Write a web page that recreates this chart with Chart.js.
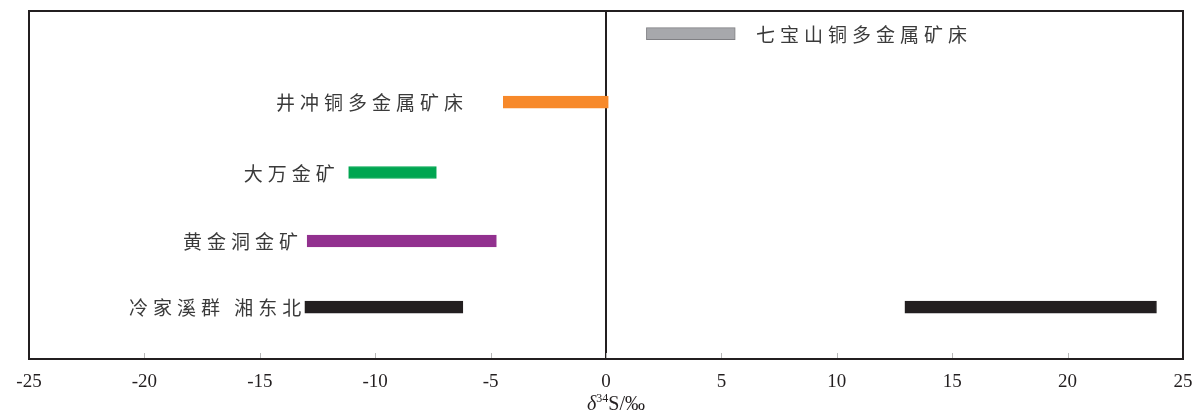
<!DOCTYPE html>
<html>
<head>
<meta charset="utf-8">
<script src="https://cdn.jsdelivr.net/npm/chart.js@4"></script>
<style>
    body { margin: 0; background: #fff; }
    #wrap { width: 1196px; height: 415px; position: relative; }
</style>
</head>
<body>
<div id="wrap"><canvas id="chart"></canvas></div>
<script>
// Rows (top to bottom) and where they sit on the hidden y scale
const rowNames = ['七宝山铜多金属矿床', '井冲铜多金属矿床', '大万金矿', '黄金洞金矿', '冷家溪群 湘东北'];
const rowPos = [9.35, 7.38, 5.36, 3.39, 1.49];

// δ34S ranges, one entry per bar (the last row has two bars)
const barRow = [0, 1, 2, 3, 4, 4];
const barLow = [1.75, -4.45, -11.15, -12.95, -13.05, 12.95];
const barHigh = [5.6, 0.1, -7.35, -4.75, -6.2, 23.85];
const barColors = ['#a7a8ac', '#f7892a', '#00a651', '#92318f', '#231f20', '#231f20'];
const barBorders = ['#808084', '#f7892a', '#00a651', '#92318f', '#231f20', '#231f20'];

// where each row label starts/ends (x value) and on which side of that point
const labelAt = [6.5, -6.2, -11.75, -13.35, -13.2];
const labelSide = ['right', 'left', 'left', 'left', 'left'];

// x axis
const xMin = -25;
const xMax = 25;
const xStep = 5;

const INK = '#231f20';

// Frame, inward tick marks, row labels and the axis title
const decorPlugin = {
    id: 'decor',
    afterDatasetsDraw(chart) {
        const ctx = chart.ctx;
        const area = chart.chartArea;
        const xs = chart.scales.x;
        const ys = chart.scales.y;

        ctx.save();

        // small inward ticks along the bottom
        ctx.strokeStyle = '#b8b8b8';
        ctx.lineWidth = 1;
        xs.ticks.forEach(t => {
            const px = Math.round(xs.getPixelForValue(t.value)) + 0.5;
            ctx.beginPath();
            ctx.moveTo(px, area.bottom);
            ctx.lineTo(px, area.bottom - 6);
            ctx.stroke();
        });

        // frame
        ctx.strokeStyle = INK;
        ctx.lineWidth = 2;
        ctx.strokeRect(area.left, area.top, area.right - area.left, area.bottom - area.top);

        // row labels
        const spacing = 5;
        ctx.font = '19px "Noto Sans CJK SC"';
        ctx.fillStyle = '#3a3a3a';
        ctx.textBaseline = 'middle';
        ctx.textAlign = 'left';
        ctx.letterSpacing = spacing + 'px';
        rowNames.forEach((name, i) => {
            const w = ctx.measureText(name).width - spacing;
            const px = xs.getPixelForValue(labelAt[i]);
            const py = ys.getPixelForValue(rowPos[i]) + 1;
            const startX = labelSide[i] === 'right' ? px : px - w;
            ctx.fillText(name, startX, py);
        });
        ctx.letterSpacing = '0px';

        // axis title: δ34S/‰
        const base = 410;
        ctx.fillStyle = INK;
        ctx.textBaseline = 'alphabetic';
        const parts = [
            { t: 'δ', f: 'italic 20px "Liberation Serif"', dy: 0 },
            { t: '34', f: '12px "Liberation Serif"', dy: -8 },
            { t: 'S/‰', f: '20px "Liberation Serif"', dy: 0 }
        ];
        let total = 0;
        parts.forEach(p => { ctx.font = p.f; p.w = ctx.measureText(p.t).width; total += p.w; });
        let cx = xs.getPixelForValue(0) + 10 - total / 2;
        parts.forEach(p => {
            ctx.font = p.f;
            ctx.fillText(p.t, cx, base + p.dy);
            cx += p.w;
        });

        ctx.restore();
    }
};

const bars = barLow.map((lo, i) => ({ x: [lo, barHigh[i]], y: rowPos[barRow[i]] }));

new Chart(document.getElementById('chart').getContext('2d'), {
    type: 'bar',
    data: {
        datasets: [{
            data: bars,
            backgroundColor: barColors,
            borderColor: barBorders,
            borderWidth: 1,
            borderSkipped: false,
            barThickness: 12
        }]
    },
    options: {
        indexAxis: 'y',
        responsive: true,
        maintainAspectRatio: false,
        animation: false,
        layout: {
            padding: { left: 29, right: 13, top: 11, bottom: 0 }
        },
        plugins: {
            legend: { display: false },
            tooltip: { enabled: false }
        },
        scales: {
            x: {
                type: 'linear',
                min: xMin,
                max: xMax,
                border: { display: false },
                grid: {
                    drawTicks: false,
                    lineWidth: 2,
                    color: c => (c.tick && c.tick.value === 0) ? INK : 'rgba(0,0,0,0)'
                },
                ticks: {
                    stepSize: xStep,
                    padding: 12,
                    color: INK,
                    font: { family: '"Liberation Serif"', size: 19 }
                },
                afterFit(scale) {
                    scale.height = 56;
                    scale.paddingLeft = 0;
                    scale.paddingRight = 0;
                }
            },
            y: {
                type: 'linear',
                min: 0,
                max: 10,
                offset: false,
                display: false
            }
        }
    },
    plugins: [decorPlugin]
});
</script>
</body>
</html>
